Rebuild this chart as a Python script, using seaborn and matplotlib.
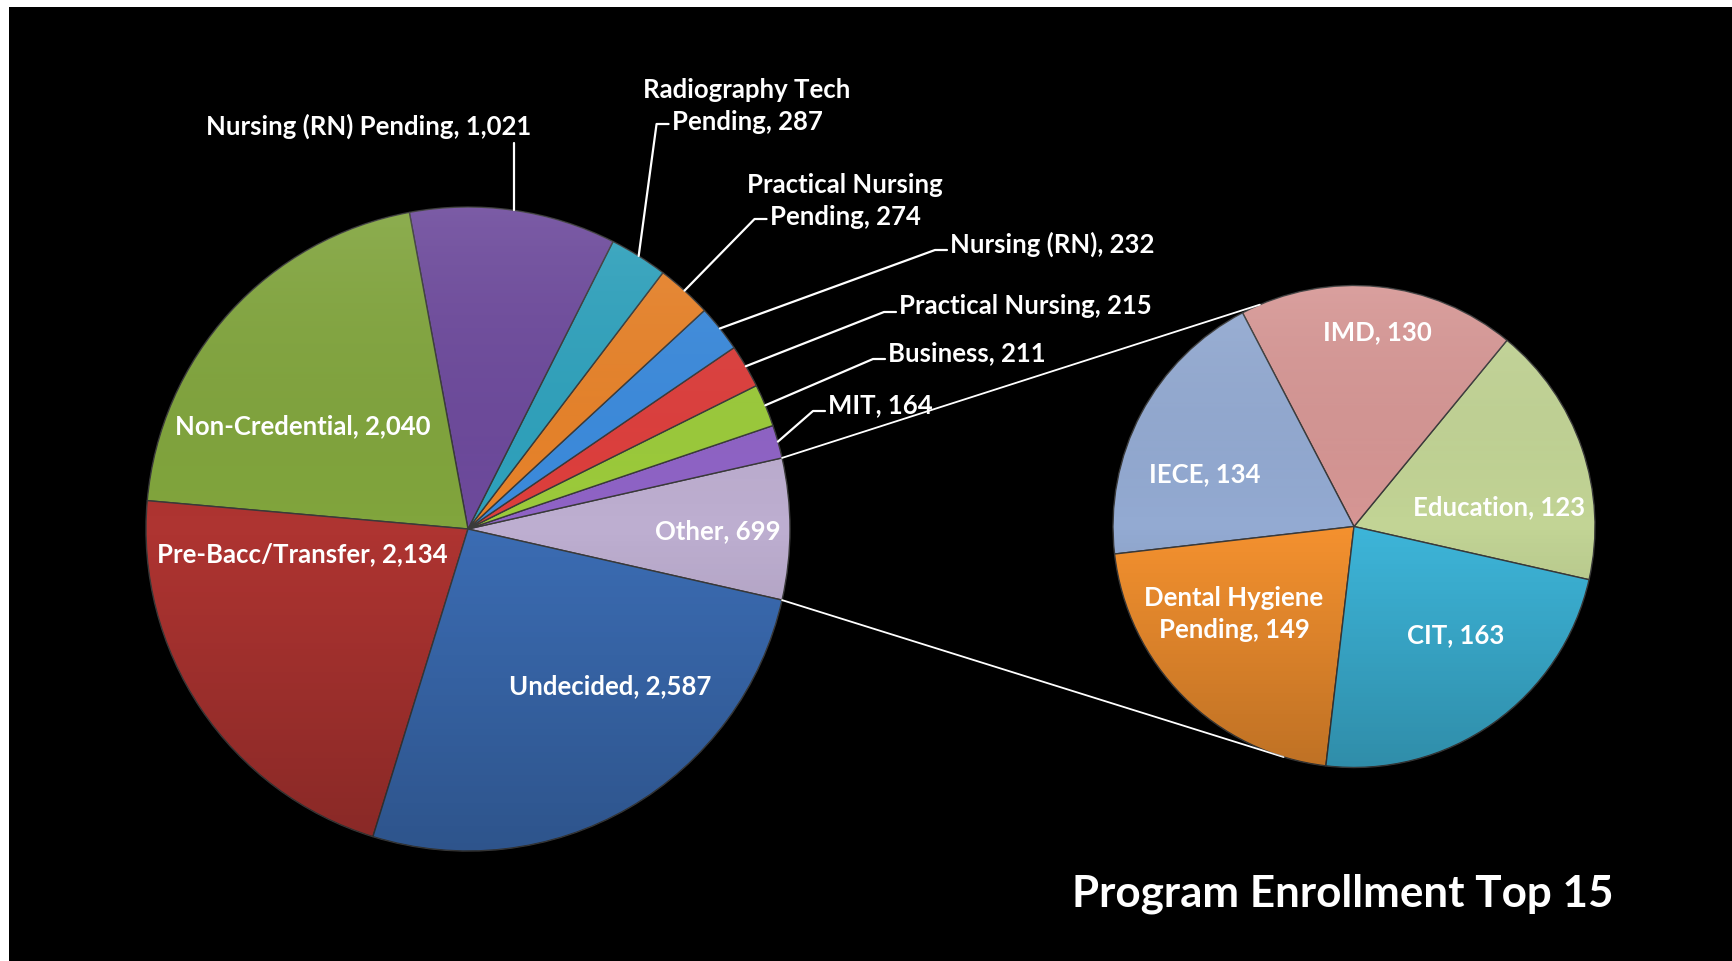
import numpy as np
import matplotlib.pyplot as plt
from matplotlib.patches import Circle
import seaborn as sns

# ---- data ----
main_labels = ['Other', 'MIT', 'Business', 'Practical Nursing', 'Nursing (RN)',
               'Practical Nursing\nPending', 'Radiography Tech\nPending',
               'Nursing (RN) Pending', 'Non-Credential', 'Pre-Bacc/Transfer', 'Undecided']
main_values = [699, 164, 211, 215, 232, 274, 287, 1021, 2040, 2134, 2587]
main_colors = ['#BDAED0', '#8F63C6', '#9CCB3B', '#DE3F3D', '#3C8BDD', '#E8832A',
               '#2FA2BD', '#6D4A9C', '#81A53D', '#AE3431', '#3B6CB3']

other_labels = ['Education', 'IMD', 'IECE', 'Dental Hygiene\nPending', 'CIT']
other_values = [123, 130, 134, 149, 163]
other_colors = ['#C2D495', '#D69694', '#93AAD2', '#F4912F', '#3DB5D9']

title = 'Program Enrollment Top 15'

W, H = 1732, 961
sns.set_style('dark', {'axes.facecolor': 'black', 'figure.facecolor': 'white'})
plt.rcParams['font.family'] = ['Lato', 'DejaVu Sans']

fig = plt.figure(figsize=(W / 100, H / 100), dpi=100)
ax = fig.add_axes([9 / W, 0, 1 - 9 / W, 1 - 7 / H])
ax.add_patch(plt.Rectangle((0, 0), W, H, color='black', zorder=0))

c1, r1 = (468, H - 529), 322
c2, r2 = (1354, H - 526.5), 241

start = -180 * main_values[0] / sum(main_values)
w1, _ = ax.pie(main_values, colors=main_colors, startangle=start, center=c1, radius=r1,
               wedgeprops=dict(edgecolor='#3a3a3a', linewidth=1.0), frame=True)
w2, _ = ax.pie(other_values, colors=other_colors, startangle=start, center=c2, radius=r2,
               wedgeprops=dict(edgecolor='#3a3a3a', linewidth=1.0), frame=True)
ax.set_xlim(9, W)
ax.set_ylim(0, H - 7)
ax.set_aspect('equal')
ax.axis('off')

# soft shading over both pies: lighter at top, darker at bottom
grad = np.linspace(-1, 1, 256).reshape(-1, 1)
cmap = plt.matplotlib.colors.LinearSegmentedColormap.from_list(
    'shade', [(0, 0, 0, 0.22), (0, 0, 0, 0.0), (1, 1, 1, 0.10)])
for c, r in [(c1, r1), (c2, r2)]:
    im = ax.imshow(grad, cmap=cmap, vmin=-1, vmax=1, aspect='auto', zorder=3,
                   extent=(c[0] - r, c[0] + r, c[1] - r, c[1] + r), origin='lower')
    im.set_clip_path(Circle(c, r, transform=ax.transData))

txt = dict(color='white', fontsize=18.5, fontweight='bold', zorder=5)
LS = 1.42


def fmt(v):
    return f'{v:,}'


# inside labels
inside_pos = {'Non-Credential': (303, 426), 'Pre-Bacc/Transfer': (302, 554),
              'Undecided': (610, 686), 'Other': (718, 531)}
for lab, val in zip(main_labels, main_values):
    if lab in inside_pos:
        x, y = inside_pos[lab]
        ax.text(x, H - y, f'{lab}, {fmt(val)}', ha='center', va='center', **txt)

other_pos = {'Education': (1499, 507), 'IMD': (1377, 332), 'IECE': (1205, 474),
             'Dental Hygiene\nPending': (1234, 614), 'CIT': (1456, 635)}
for lab, val in zip(other_labels, other_values):
    x, y = other_pos[lab]
    ax.text(x, H - y, f'{lab}, {fmt(val)}', ha='center', va='center',
            linespacing=LS, **txt)

# outside labels with leader lines
mids = {}
cum = start
for lab, val in zip(main_labels, main_values):
    ang = val / sum(main_values) * 360
    mids[lab] = cum + ang / 2
    cum += ang

outside = {'MIT': (828, 405, 'left'), 'Business': (888, 353, 'left'),
           'Practical Nursing': (899, 306, 'left'), 'Nursing (RN)': (950, 244, 'left'),
           'Practical Nursing\nPending': (845, 201, 'center'),
           'Radiography Tech\nPending': (747, 106, 'center'),
           'Nursing (RN) Pending': (369, 126, 'center')}
fig.canvas.draw()
for lab, val in zip(main_labels, main_values):
    if lab not in outside:
        continue
    x, y, ha = outside[lab]
    ax.text(x, H - y, f'{lab}, {fmt(val)}', ha=ha, va='center', linespacing=LS, **txt)
    a = np.radians(mids[lab])
    px, py = c1[0] + r1 * np.cos(a), c1[1] + r1 * np.sin(a)
    if lab == 'Nursing (RN) Pending':
        ax.plot([px, px], [py, H - 143], color='white', lw=1.6, zorder=4)
        continue
    if ha == 'center':
        # leader runs to the left edge of the second line
        second = lab.split('\n')[1] + f', {fmt(val)}'
        tmp = ax.text(0, 0, second, **txt)
        wb = tmp.get_window_extent().transformed(ax.transData.inverted())
        tmp.remove()
        lx = x - (wb.x1 - wb.x0) / 2 - 3
        ly = H - y - 18
    else:
        lx = x - 3
        ly = H - y - 6
    ax.plot([px, lx - 12, lx], [py, ly, ly], color='white', lw=1.6, zorder=4)

# connector lines between the two pies
half = np.radians(-start)
for s, a2 in [(1, 113), (-1, -107)]:
    p1 = (c1[0] + r1 * np.cos(half), c1[1] + s * r1 * np.sin(half))
    p2 = (c2[0] + r2 * np.cos(np.radians(a2)), c2[1] + r2 * np.sin(np.radians(a2)))
    ax.plot([p1[0], p2[0]], [p1[1], p2[1]], color='white', lw=1.3, zorder=2)

ax.text(1343, H - 894, title, ha='center', va='center', color='white',
        fontsize=31.7, fontweight='bold', zorder=5)

fig.savefig('out.png', dpi=100, facecolor='white')
